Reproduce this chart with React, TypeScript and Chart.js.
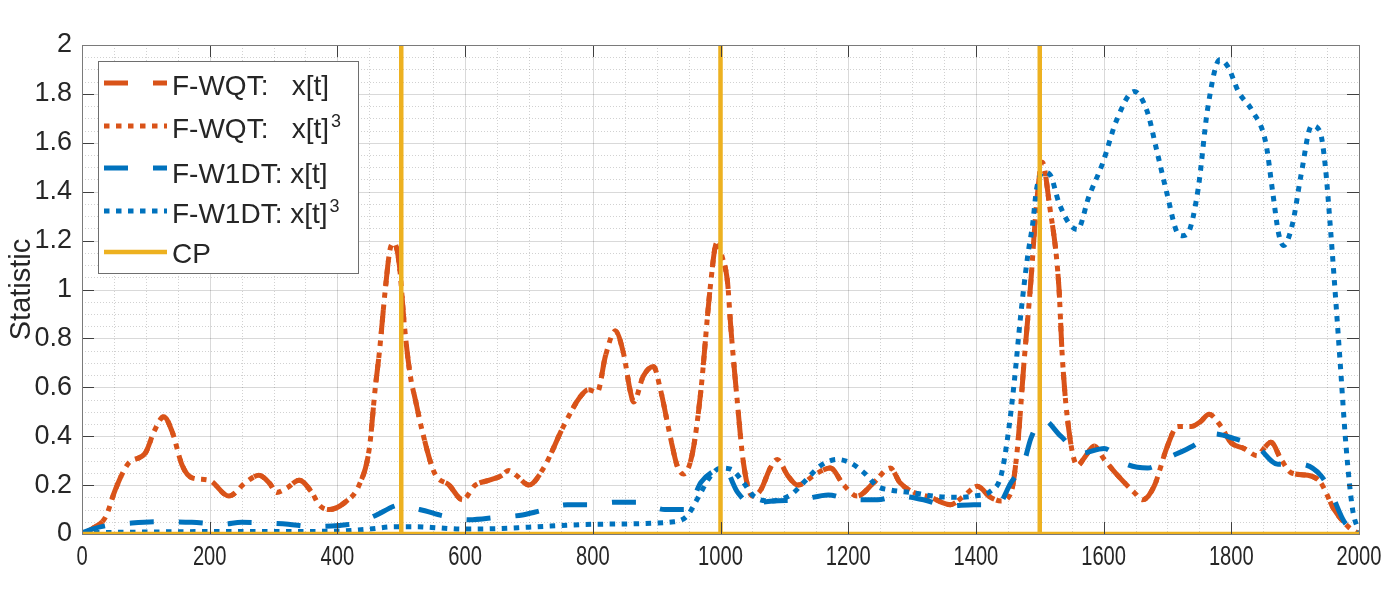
import React, { useEffect, useRef } from "react";
import { Chart, registerables } from "chart.js";
Chart.register(...registerables);

// ---------- data ----------
const X_MIN = 0;
const X_MAX = 2000;
const Y_MIN = 0;
const Y_MAX = 2;
const xTickValues = [0, 200, 400, 600, 800, 1000, 1200, 1400, 1600, 1800, 2000];
const xTickLabels = ["0", "200", "400", "600", "800", "1000", "1200", "1400", "1600", "1800", "2000"];
const yTickStep = 0.2;
const xMinorStep = 50;
const yMinorStep = 0.05;
const yAxisTitle = "Statistic";

const seriesNames = ["F-WQT:   x[t]", "F-WQT:   x[t]", "F-W1DT: x[t]", "F-W1DT: x[t]", "CP"];
const seriesSuperscripts = ["", "3", "", "3", ""];

// F-WQT x[t]
const wqtX = [0, 15, 37, 52, 73, 99, 113, 128, 141, 157, 172, 199, 230, 256, 277, 293, 305, 322, 340, 360, 371, 387, 412, 434, 450, 459, 466, 475, 483, 489, 497, 505, 514, 522, 533, 552, 575, 596, 616, 638, 658, 668, 680, 700, 723, 754, 780, 793, 807, 820, 835, 848, 859, 864, 879, 895, 906, 922, 932, 942, 956, 969, 984, 994, 1003, 1011, 1016, 1026, 1036, 1050, 1063, 1078, 1089, 1105, 1121, 1152, 1172, 1193, 1214, 1240, 1266, 1281, 1303, 1329, 1360, 1381, 1402, 1423, 1439, 1455, 1465, 1475, 1486, 1495, 1504, 1515, 1530, 1535, 1543, 1559, 1572, 1585, 1601, 1622, 1648, 1661, 1679, 1700, 1716, 1737, 1752, 1765, 1784, 1799, 1820, 1841, 1851, 1862, 1878, 1894, 1920, 1940, 1961, 1983, 2000];
const wqtY = [0, 0.02, 0.07, 0.18, 0.29, 0.33, 0.42, 0.48, 0.42, 0.28, 0.23, 0.22, 0.155, 0.21, 0.24, 0.21, 0.17, 0.19, 0.22, 0.17, 0.12, 0.1, 0.13, 0.2, 0.35, 0.59, 0.75, 1.0, 1.17, 1.19, 1.1, 0.85, 0.65, 0.55, 0.42, 0.25, 0.2, 0.14, 0.2, 0.22, 0.24, 0.26, 0.24, 0.2, 0.27, 0.44, 0.56, 0.59, 0.58, 0.73, 0.83, 0.74, 0.58, 0.54, 0.645, 0.685, 0.59, 0.39, 0.28, 0.245, 0.33, 0.58, 1.01, 1.19, 1.13, 1.03, 0.85, 0.55, 0.29, 0.155, 0.18, 0.27, 0.305, 0.24, 0.2, 0.25, 0.27, 0.2, 0.155, 0.21, 0.27, 0.21, 0.17, 0.15, 0.12, 0.155, 0.195, 0.15, 0.135, 0.17, 0.35, 0.69, 1.03, 1.35, 1.52, 1.35, 1.01, 0.74, 0.48, 0.28, 0.32, 0.36, 0.305, 0.24, 0.17, 0.14, 0.195, 0.36, 0.44, 0.44, 0.46, 0.49, 0.44, 0.375, 0.35, 0.32, 0.35, 0.375, 0.305, 0.25, 0.24, 0.21, 0.1, 0.03, 0];

// F-WQT x[t]^3 (overlaps the x[t] curve)
const wqtCubeX = wqtX;
const wqtCubeY = wqtY;

// F-W1DT x[t]
const w1dtX = [0, 16, 40, 78, 120, 172, 220, 250, 290, 323, 360, 402, 430, 459, 490, 500, 520, 537, 564, 606, 650, 690, 710, 760, 796, 835, 871, 913, 948, 969, 995, 1005, 1027, 1052, 1067, 1125, 1169, 1204, 1246, 1277, 1318, 1356, 1397, 1434, 1455, 1475, 1486, 1504, 1533, 1564, 1601, 1632, 1669, 1700, 1740, 1771, 1805, 1841, 1873, 1909, 1940, 1956, 1977, 2000];
const w1dtY = [0.005, 0.02, 0.035, 0.045, 0.05, 0.048, 0.04, 0.048, 0.045, 0.04, 0.03, 0.035, 0.045, 0.075, 0.115, 0.12, 0.105, 0.095, 0.075, 0.058, 0.068, 0.078, 0.09, 0.12, 0.12, 0.13, 0.13, 0.1, 0.1, 0.21, 0.265, 0.27, 0.17, 0.115, 0.13, 0.14, 0.16, 0.14, 0.14, 0.155, 0.14, 0.115, 0.12, 0.12, 0.21, 0.29, 0.39, 0.47, 0.4, 0.33, 0.35, 0.29, 0.27, 0.31, 0.36, 0.41, 0.39, 0.355, 0.285, 0.285, 0.24, 0.17, 0.05, 0];

// F-W1DT x[t]^3
const w1dtCubeX = [0, 100, 200, 300, 400, 450, 490, 522, 560, 596, 650, 700, 807, 927, 948, 963, 984, 1000, 1016, 1036, 1052, 1078, 1110, 1130, 1157, 1183, 1204, 1225, 1246, 1266, 1298, 1334, 1365, 1397, 1423, 1439, 1450, 1460, 1470, 1481, 1489, 1495, 1506, 1516, 1530, 1546, 1559, 1577, 1599, 1620, 1648, 1668, 1684, 1699, 1716, 1724, 1732, 1748, 1763, 1782, 1795, 1811, 1833, 1854, 1865, 1874, 1882, 1896, 1909, 1926, 1939, 1947, 1955, 1961, 1970, 1980, 1990, 2000];
const w1dtCubeY = [0.005, 0.008, 0.01, 0.01, 0.012, 0.02, 0.03, 0.03, 0.025, 0.02, 0.022, 0.028, 0.04, 0.05, 0.075, 0.14, 0.235, 0.27, 0.265, 0.21, 0.155, 0.135, 0.16, 0.21, 0.28, 0.305, 0.29, 0.25, 0.195, 0.18, 0.17, 0.155, 0.15, 0.155, 0.175, 0.235, 0.4, 0.62, 0.89, 1.135, 1.27, 1.41, 1.48, 1.47, 1.355, 1.27, 1.245, 1.38, 1.52, 1.69, 1.81, 1.73, 1.56, 1.395, 1.23, 1.22, 1.23, 1.41, 1.74, 1.94, 1.91, 1.81, 1.73, 1.6, 1.395, 1.23, 1.18, 1.27, 1.465, 1.67, 1.645, 1.51, 1.26, 1.05, 0.72, 0.35, 0.1, 0.01];

// change points
const cpPositions = [500, 1000, 1500];
const cpHeight = 2;

// ---------- styles ----------
const ORANGE = "#D95319";
const BLUE = "#0072BD";
const YELLOW = "#EDB120";
const TEXT = "#262626";
const FONT = '"Liberation Sans", Arial, Helvetica, sans-serif';
const DASH = [24, 25];
const DOT = [5.5, 6.5];
const seriesColors = [ORANGE, ORANGE, BLUE, BLUE, YELLOW];
const seriesDashes = [DASH, DOT, DASH, DOT, []];

const axesPlugin = {
  id: "matlabAxes",
  beforeDatasetsDraw(chart: any) {
    const { ctx, chartArea: a, scales } = chart;
    const xs = scales.x;
    const ys = scales.y;
    ctx.save();
    ctx.lineWidth = 1;
    // minor grid
    ctx.strokeStyle = "rgba(0,0,0,0.18)";
    ctx.setLineDash([1, 2]);
    const nx = Math.round((X_MAX - X_MIN) / xMinorStep);
    for (let i = 1; i < nx; i++) {
      if (i % 4 === 0) continue;
      const px = Math.round(xs.getPixelForValue(X_MIN + i * xMinorStep)) + 0.5;
      ctx.beginPath();
      ctx.moveTo(px, a.top);
      ctx.lineTo(px, a.bottom);
      ctx.stroke();
    }
    const ny = Math.round((Y_MAX - Y_MIN) / yMinorStep);
    for (let i = 1; i < ny; i++) {
      if (i % 4 === 0) continue;
      const py = Math.round(ys.getPixelForValue(Y_MIN + i * yMinorStep)) + 0.5;
      ctx.beginPath();
      ctx.moveTo(a.left, py);
      ctx.lineTo(a.right, py);
      ctx.stroke();
    }
    // major grid
    ctx.setLineDash([]);
    ctx.strokeStyle = "rgba(0,0,0,0.15)";
    xTickValues.forEach((v) => {
      const px = Math.round(xs.getPixelForValue(v)) + 0.5;
      ctx.beginPath();
      ctx.moveTo(px, a.top);
      ctx.lineTo(px, a.bottom);
      ctx.stroke();
    });
    for (let i = 1; i < ny; i++) {
      if (i % 4 !== 0) continue;
      const py = Math.round(ys.getPixelForValue(Y_MIN + i * yMinorStep)) + 0.5;
      ctx.beginPath();
      ctx.moveTo(a.left, py);
      ctx.lineTo(a.right, py);
      ctx.stroke();
    }
    ctx.restore();
  },
  afterDatasetsDraw(chart: any) {
    const { ctx, chartArea: a, scales } = chart;
    const xs = scales.x;
    const ys = scales.y;
    ctx.save();
    // inward ticks
    ctx.strokeStyle = "#404040";
    ctx.lineWidth = 1;
    const tl = 12;
    xTickValues.forEach((v) => {
      const px = Math.round(xs.getPixelForValue(v)) + 0.5;
      ctx.beginPath();
      ctx.moveTo(px, a.bottom);
      ctx.lineTo(px, a.bottom - tl);
      ctx.moveTo(px, a.top);
      ctx.lineTo(px, a.top + tl);
      ctx.stroke();
    });
    const nMaj = Math.round((Y_MAX - Y_MIN) / yTickStep);
    for (let i = 0; i <= nMaj; i++) {
      const py = Math.round(ys.getPixelForValue(Y_MIN + i * yTickStep)) + 0.5;
      ctx.beginPath();
      ctx.moveTo(a.left, py);
      ctx.lineTo(a.left + tl, py);
      ctx.moveTo(a.right, py);
      ctx.lineTo(a.right - tl, py);
      ctx.stroke();
    }
    // box
    ctx.strokeStyle = "#7a7a7a";
    ctx.strokeRect(Math.round(a.left) + 0.5, Math.round(a.top) + 0.5, Math.round(a.right - a.left), Math.round(a.bottom - a.top));
    // x tick labels (condensed)
    ctx.fillStyle = TEXT;
    ctx.font = `28px ${FONT}`;
    ctx.textAlign = "center";
    ctx.textBaseline = "middle";
    xTickValues.forEach((v, i) => {
      const px = xs.getPixelForValue(v);
      ctx.save();
      ctx.translate(px, a.bottom + 23);
      ctx.scale(0.72, 1);
      ctx.fillText(xTickLabels[i], 0, 0);
      ctx.restore();
    });
    ctx.restore();
  },
  afterDraw(chart: any) {
    const { ctx } = chart;
    ctx.save();
    // legend box
    ctx.fillStyle = "#ffffff";
    ctx.fillRect(98, 61, 261, 213);
    ctx.strokeStyle = "#6e6e6e";
    ctx.lineWidth = 1;
    ctx.strokeRect(98.5, 61.5, 260, 212);
    const lineY = [83, 126, 168, 211, 252];
    const textBase = [95, 138, 183, 223, 263];
    seriesNames.forEach((name, i) => {
      ctx.strokeStyle = seriesColors[i];
      ctx.lineWidth = i === 4 ? 4.5 : 5;
      ctx.lineCap = "butt";
      ctx.setLineDash(seriesDashes[i]);
      ctx.beginPath();
      ctx.moveTo(104, lineY[i]);
      ctx.lineTo(167, lineY[i]);
      ctx.stroke();
      ctx.setLineDash([]);
      ctx.fillStyle = TEXT;
      ctx.font = `28px ${FONT}`;
      ctx.textAlign = "left";
      ctx.textBaseline = "alphabetic";
      ctx.fillText(name, 172, textBase[i]);
      if (seriesSuperscripts[i]) {
        const w = ctx.measureText(name).width;
        ctx.font = `18px ${FONT}`;
        ctx.fillText(seriesSuperscripts[i], 172 + w + 2, textBase[i] - 11);
      }
    });
    ctx.restore();
  },
};

const pts = (xs: number[], ys: number[]) => xs.map((v, i) => ({ x: v, y: ys[i] }));

export default function App() {
  const ref = useRef<HTMLCanvasElement>(null);
  useEffect(() => {
    document.body.style.margin = "0";
    const canvas = ref.current!;
    const cpData: { x: number; y: number }[] = [{ x: X_MIN, y: 0 }];
    cpPositions.forEach((p) => {
      cpData.push({ x: p, y: 0 }, { x: p, y: cpHeight }, { x: p, y: 0 });
    });
    cpData.push({ x: X_MAX, y: 0 });

    const common = {
      pointRadius: 0,
      pointHoverRadius: 0,
      fill: false,
      borderCapStyle: "butt",
      borderJoinStyle: "round",
      cubicInterpolationMode: "monotone",
    };

    const chart = new Chart(canvas, {
      type: "line",
      data: {
        datasets: [
          { ...common, label: seriesNames[0], data: pts(wqtX, wqtY), borderColor: ORANGE, borderWidth: 5, borderDash: DASH, order: 5 },
          { ...common, label: seriesNames[1], data: pts(wqtCubeX, wqtCubeY), borderColor: ORANGE, borderWidth: 5, borderDash: DOT, order: 4 },
          { ...common, label: seriesNames[2], data: pts(w1dtX, w1dtY), borderColor: BLUE, borderWidth: 5, borderDash: DASH, order: 3 },
          { ...common, label: seriesNames[3], data: pts(w1dtCubeX, w1dtCubeY), borderColor: BLUE, borderWidth: 5, borderDash: DOT, order: 2 },
          { label: seriesNames[4], data: cpData, borderColor: YELLOW, borderWidth: 4.5, pointRadius: 0, fill: false, tension: 0, order: 1 },
        ] as any,
      },
      options: {
        animation: false,
        responsive: false,
        maintainAspectRatio: false,
        events: [],
        layout: { padding: { top: 45, right: 37, bottom: 0, left: 0 } },
        plugins: { legend: { display: false }, tooltip: { enabled: false } },
        scales: {
          x: {
            type: "linear",
            min: X_MIN,
            max: X_MAX,
            grid: { display: false },
            border: { display: false },
            ticks: { display: false },
            afterFit: (s: any) => {
              s.height = 66;
            },
          },
          y: {
            type: "linear",
            min: Y_MIN,
            max: Y_MAX,
            grid: { display: false, drawTicks: false },
            border: { display: false },
            ticks: {
              stepSize: yTickStep,
              color: TEXT,
              padding: 10,
              font: { family: FONT, size: 27 },
              callback: (v: any) => String(Math.round(Number(v) * 10) / 10),
            },
            title: {
              display: true,
              text: yAxisTitle,
              color: TEXT,
              font: { family: FONT, size: 29 },
              padding: { top: 5, bottom: 0 },
            },
            afterFit: (s: any) => {
              s.width = 82;
            },
          },
        },
      } as any,
      plugins: [axesPlugin],
    });
    return () => chart.destroy();
  }, []);
  return (
    <div style={{ width: 1396, height: 600 }}>
      <canvas ref={ref} width={1396} height={600} style={{ display: "block" }} />
    </div>
  );
}
